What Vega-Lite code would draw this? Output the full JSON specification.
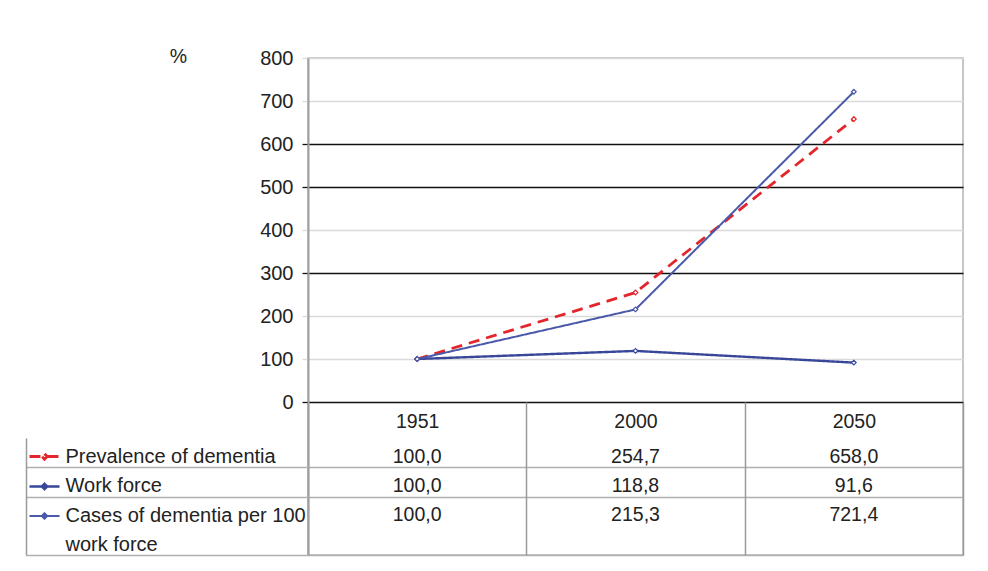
{
  "$schema": "https://vega.github.io/schema/vega-lite/v6.json",
  "width": 655,
  "height": 497,
  "autosize": {"type": "none"},
  "padding": {"left": 308, "top": 58, "right": 25, "bottom": 16},
  "background": "white",
  "config": {
    "font": "Liberation Sans",
    "locale": {"number": {"decimal": ",", "thousands": ".", "grouping": [3], "currency": ["", " €"]}},
    "view": {"stroke": "#b4b4b4", "strokeWidth": 1.5}
  },
  "data": {
    "values": [
      {"series": "Prevalence of dementia", "year": "1951", "value": 100.0},
      {"series": "Prevalence of dementia", "year": "2000", "value": 254.7},
      {"series": "Prevalence of dementia", "year": "2050", "value": 658.0},
      {"series": "Work force", "year": "1951", "value": 100.0},
      {"series": "Work force", "year": "2000", "value": 118.8},
      {"series": "Work force", "year": "2050", "value": 91.6},
      {"series": "Cases of dementia per 100 work force", "year": "1951", "value": 100.0},
      {"series": "Cases of dementia per 100 work force", "year": "2000", "value": 215.3},
      {"series": "Cases of dementia per 100 work force", "year": "2050", "value": 721.4}
    ]
  },
  "resolve": {"scale": {"y": "independent"}},
  "layer": [
    {
      "layer": [
        {
          "mark": {"type": "line"},
          "encoding": {
            "x": {
              "field": "year", "type": "ordinal",
              "scale": {"type": "band", "paddingInner": 0, "paddingOuter": 0},
              "axis": {
                "orient": "bottom", "offset": -153, "title": null, "domain": false,
                "tickBand": "extent", "tickSize": 153, "tickColor": "#9a9a9a", "tickWidth": 1.5,
                "labelAngle": 0, "labelPadding": -134, "labelBaseline": "middle",
                "labelFontSize": 19.5, "labelColor": "#222", "grid": false
              }
            },
            "y": {
              "field": "value", "type": "quantitative",
              "scale": {"domain": [-355.8, 800], "nice": false, "zero": false},
              "axis": {
                "values": [0, 100, 200, 300, 400, 500, 600, 700, 800],
                "grid": true,
                "gridColor": {"condition": {"test": "indexof([0,300,500,600], datum.value) >= 0", "value": "#111"}, "value": "#dadada"},
                "gridWidth": 1.3,
                "tickColor": {"condition": {"test": "indexof([0,300,500,600], datum.value) >= 0", "value": "#111"}, "value": "#dadada"},
                "tickSize": 6, "tickWidth": 1.3,
                "domainColor": "#a0a0a0", "domainWidth": 2,
                "labelFontSize": 20, "labelColor": "#222", "labelPadding": 9,
                "title": "%", "titleAngle": 0, "titleX": -130, "titleY": -2,
                "titleFontSize": 19.5, "titleFontWeight": "normal", "titleAlign": "center",
                "titleBaseline": "middle", "titleColor": "#222"
              }
            },
            "color": {
              "field": "series", "type": "nominal",
              "scale": {
                "domain": ["Prevalence of dementia", "Work force", "Cases of dementia per 100 work force"],
                "range": ["#e3262b", "#38479a", "#4a59a8"]
              },
              "legend": {
                "orient": "none", "legendX": -280, "legendY": 382, "title": null,
                "symbolType": "M-1,0H1M0,-0.18L0.18,0L0,0.18L-0.18,0Z", "symbolSize": 900,
                "symbolStrokeWidth": 1.8, "symbolFillColor": "white",
                "labelExpr": "''", "labelFontSize": 20, "rowPadding": 3, "padding": 0
              }
            },
            "strokeDash": {
              "field": "series", "type": "nominal",
              "scale": {
                "domain": ["Prevalence of dementia", "Work force", "Cases of dementia per 100 work force"],
                "range": [[11, 7], [1, 0], [1, 0]]
              },
              "legend": {
                "orient": "none", "legendX": -280, "legendY": 382, "title": null,
                "symbolType": "M-1,0H1M0,-0.18L0.18,0L0,0.18L-0.18,0Z", "symbolSize": 900,
                "symbolStrokeWidth": 1.8, "symbolFillColor": "white",
                "labelExpr": "''", "labelFontSize": 20, "rowPadding": 3, "padding": 0
              }
            },
            "strokeWidth": {
              "field": "series", "type": "nominal",
              "scale": {
                "domain": ["Prevalence of dementia", "Work force", "Cases of dementia per 100 work force"],
                "range": [2.8, 2, 2.2]
              },
              "legend": null
            }
          }
        },
        {
          "mark": {"type": "point", "fill": "white", "size": 22, "strokeWidth": 1.2, "opacity": 1, "shape": "diamond"},
          "encoding": {
            "x": {"field": "year", "type": "ordinal"},
            "y": {"field": "value", "type": "quantitative"},
            "stroke": {
              "field": "series", "type": "nominal",
              "scale": {
                "domain": ["Prevalence of dementia", "Work force", "Cases of dementia per 100 work force"],
                "range": ["#e3262b", "#38479a", "#4a59a8"]
              },
              "legend": null
            }
          }
        }
      ]
    },
    {
      "mark": {"type": "text", "fontSize": 19.5, "dy": 4, "color": "#222"},
      "encoding": {
        "x": {"field": "year", "type": "ordinal"},
        "y": {
          "field": "series", "type": "nominal",
          "scale": {
            "type": "band",
            "domain": ["Prevalence of dementia", "Work force", "Cases of dementia per 100 work force", "work force"],
            "range": [380, 497], "paddingInner": 0, "paddingOuter": 0
          },
          "axis": {
            "orient": "left", "offset": 282, "title": null,
            "domainColor": "#9a9a9a", "domainWidth": 1.5,
            "tickBand": "extent", "tickSize": -282, "tickWidth": 1.5,
            "tickColor": {"condition": {"test": "!datum.value || datum.value == 'Cases of dementia per 100 work force'", "value": "transparent"}, "value": "#b0b0b0"},
            "grid": true, "gridWidth": 1.5,
            "gridColor": {"condition": {"test": "!datum.value || datum.value == 'Cases of dementia per 100 work force'", "value": "transparent"}, "value": "#b0b0b0"},
            "labelAlign": "left", "labelPadding": 243, "labelLimit": 0, "labelOffset": 4,
            "labelFontSize": 20, "labelColor": "#222", "labelBaseline": "middle",
            "labelExpr": "datum.value == 'Cases of dementia per 100 work force' ? 'Cases of dementia per 100' : datum.label"
          }
        },
        "text": {"field": "value", "type": "quantitative", "format": ".1f"}
      }
    }
  ]
}
